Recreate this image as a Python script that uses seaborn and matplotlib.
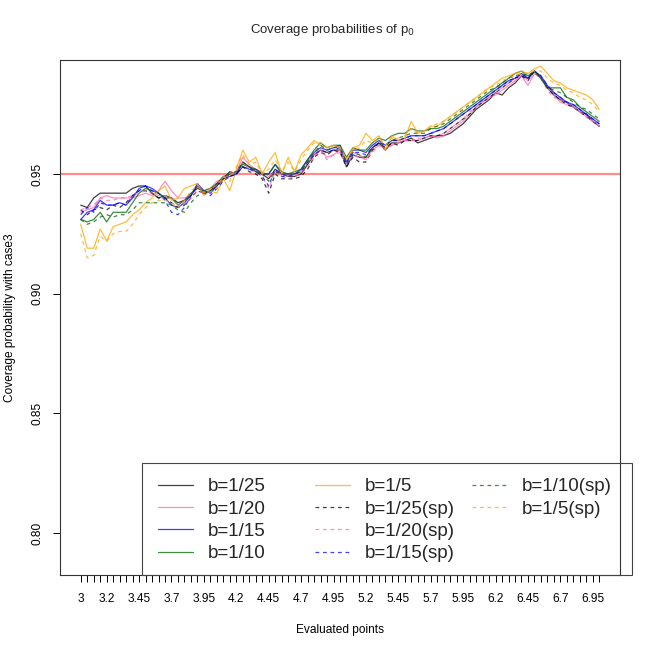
import numpy as np
import pandas as pd
import seaborn as sns
import matplotlib.pyplot as plt
from matplotlib.lines import Line2D
from matplotlib.patches import Rectangle

# evaluated points 3.00, 3.05, ..., 7.00
eval_points = np.round(np.linspace(3, 7, 81), 2)
labelled_points = [3, 3.2, 3.45, 3.7, 3.95, 4.2, 4.45, 4.7, 4.95,
                   5.2, 5.45, 5.7, 5.95, 6.2, 6.45, 6.7, 6.95]
y_ticks = [0.80, 0.85, 0.90, 0.95]

b25 = [0.937, 0.936, 0.940, 0.942, 0.942, 0.942, 0.942, 0.942, 0.944, 0.945, 0.945,
       0.942, 0.940, 0.941, 0.940, 0.938, 0.939, 0.941, 0.945, 0.942, 0.943,
       0.946, 0.948, 0.951, 0.950, 0.955, 0.953, 0.951, 0.950, 0.948, 0.952,
       0.950, 0.949, 0.949, 0.950, 0.954, 0.958, 0.960, 0.959, 0.960, 0.960,
       0.953, 0.958, 0.957, 0.957, 0.961, 0.963, 0.960, 0.963, 0.963, 0.964,
       0.965, 0.963, 0.964, 0.965, 0.966, 0.966, 0.967, 0.969, 0.971, 0.974,
       0.977, 0.979, 0.981, 0.984, 0.983, 0.986, 0.988, 0.991, 0.990, 0.993,
       0.990, 0.986, 0.983, 0.981, 0.980, 0.978, 0.976, 0.975, 0.972, 0.970]
b20 = [0.934, 0.935, 0.936, 0.940, 0.941, 0.940, 0.940, 0.940, 0.940, 0.941, 0.942,
       0.941, 0.943, 0.947, 0.943, 0.940, 0.940, 0.941, 0.944, 0.943, 0.944,
       0.947, 0.948, 0.950, 0.951, 0.957, 0.954, 0.952, 0.951, 0.949, 0.951,
       0.950, 0.949, 0.950, 0.951, 0.955, 0.958, 0.960, 0.957, 0.958, 0.960,
       0.955, 0.959, 0.958, 0.956, 0.960, 0.962, 0.961, 0.962, 0.963, 0.964,
       0.964, 0.964, 0.965, 0.966, 0.965, 0.966, 0.968, 0.970, 0.972, 0.975,
       0.978, 0.980, 0.982, 0.983, 0.985, 0.987, 0.989, 0.991, 0.987, 0.992,
       0.990, 0.986, 0.983, 0.980, 0.979, 0.978, 0.976, 0.974, 0.972, 0.970]
b15 = [0.931, 0.934, 0.935, 0.939, 0.937, 0.937, 0.938, 0.937, 0.940, 0.944, 0.945,
       0.944, 0.942, 0.940, 0.937, 0.936, 0.938, 0.941, 0.946, 0.943, 0.942,
       0.945, 0.948, 0.949, 0.950, 0.953, 0.952, 0.952, 0.950, 0.950, 0.954,
       0.950, 0.950, 0.950, 0.952, 0.956, 0.959, 0.961, 0.960, 0.961, 0.962,
       0.955, 0.960, 0.960, 0.959, 0.962, 0.964, 0.962, 0.964, 0.964, 0.965,
       0.966, 0.966, 0.966, 0.967, 0.968, 0.969, 0.971, 0.973, 0.975, 0.977,
       0.979, 0.981, 0.983, 0.985, 0.987, 0.989, 0.990, 0.992, 0.990, 0.993,
       0.991, 0.987, 0.984, 0.982, 0.980, 0.979, 0.977, 0.975, 0.973, 0.971]
b10 = [0.931, 0.930, 0.931, 0.934, 0.930, 0.934, 0.934, 0.934, 0.938, 0.942, 0.944,
       0.943, 0.942, 0.940, 0.940, 0.937, 0.939, 0.942, 0.944, 0.943, 0.944,
       0.946, 0.949, 0.950, 0.951, 0.954, 0.953, 0.952, 0.950, 0.950, 0.954,
       0.951, 0.950, 0.951, 0.952, 0.956, 0.960, 0.963, 0.961, 0.962, 0.962,
       0.957, 0.961, 0.960, 0.960, 0.963, 0.965, 0.964, 0.966, 0.967, 0.967,
       0.969, 0.968, 0.968, 0.969, 0.969, 0.970, 0.972, 0.974, 0.976, 0.978,
       0.980, 0.982, 0.984, 0.986, 0.988, 0.990, 0.992, 0.993, 0.991, 0.993,
       0.990, 0.986, 0.986, 0.986, 0.982, 0.981, 0.978, 0.976, 0.974, 0.972]
b5 = [0.929, 0.919, 0.919, 0.927, 0.922, 0.928, 0.929, 0.930, 0.933, 0.935, 0.938,
      0.940, 0.943, 0.945, 0.939, 0.940, 0.944, 0.945, 0.946, 0.941, 0.943,
      0.942, 0.948, 0.943, 0.952, 0.960, 0.955, 0.957, 0.950, 0.955, 0.959,
      0.950, 0.957, 0.951, 0.958, 0.961, 0.964, 0.962, 0.961, 0.962, 0.961,
      0.956, 0.961, 0.962, 0.967, 0.964, 0.966, 0.960, 0.966, 0.964, 0.965,
      0.972, 0.967, 0.968, 0.970, 0.970, 0.972, 0.974, 0.976, 0.978, 0.980,
      0.982, 0.984, 0.986, 0.988, 0.990, 0.991, 0.992, 0.993, 0.992, 0.994,
      0.995, 0.992, 0.989, 0.988, 0.986, 0.985, 0.984, 0.983, 0.981, 0.977]
b25_sp = [0.935, 0.933, 0.935, 0.936, 0.935, 0.937, 0.936, 0.938, 0.941, 0.943, 0.943,
          0.942, 0.940, 0.940, 0.938, 0.936, 0.937, 0.940, 0.943, 0.942, 0.943,
          0.945, 0.948, 0.949, 0.950, 0.953, 0.951, 0.950, 0.948, 0.942, 0.950,
          0.948, 0.948, 0.948, 0.949, 0.952, 0.957, 0.959, 0.958, 0.960, 0.959,
          0.953, 0.957, 0.955, 0.955, 0.960, 0.963, 0.961, 0.963, 0.962, 0.964,
          0.964, 0.964, 0.965, 0.966, 0.966, 0.967, 0.969, 0.971, 0.973, 0.975,
          0.978, 0.980, 0.982, 0.984, 0.986, 0.988, 0.990, 0.991, 0.989, 0.993,
          0.990, 0.986, 0.983, 0.981, 0.979, 0.978, 0.976, 0.974, 0.972, 0.970]
b20_sp = [0.935, 0.936, 0.937, 0.940, 0.939, 0.939, 0.940, 0.940, 0.941, 0.942, 0.943,
          0.942, 0.941, 0.941, 0.940, 0.937, 0.938, 0.940, 0.943, 0.942, 0.943,
          0.946, 0.948, 0.950, 0.951, 0.955, 0.952, 0.951, 0.949, 0.944, 0.951,
          0.949, 0.948, 0.949, 0.950, 0.953, 0.957, 0.960, 0.956, 0.958, 0.959,
          0.954, 0.958, 0.957, 0.956, 0.959, 0.962, 0.960, 0.962, 0.963, 0.964,
          0.964, 0.965, 0.965, 0.966, 0.966, 0.967, 0.969, 0.971, 0.973, 0.976,
          0.978, 0.980, 0.982, 0.984, 0.986, 0.988, 0.990, 0.991, 0.989, 0.992,
          0.990, 0.985, 0.982, 0.981, 0.980, 0.978, 0.976, 0.974, 0.972, 0.970]
b15_sp = [0.933, 0.936, 0.934, 0.938, 0.937, 0.937, 0.938, 0.937, 0.941, 0.943, 0.945,
          0.943, 0.942, 0.939, 0.934, 0.933, 0.936, 0.941, 0.945, 0.942, 0.941,
          0.944, 0.947, 0.949, 0.950, 0.953, 0.952, 0.951, 0.949, 0.945, 0.952,
          0.949, 0.949, 0.950, 0.951, 0.955, 0.958, 0.960, 0.959, 0.960, 0.961,
          0.954, 0.959, 0.959, 0.958, 0.961, 0.963, 0.962, 0.964, 0.964, 0.965,
          0.966, 0.966, 0.966, 0.967, 0.968, 0.969, 0.971, 0.973, 0.975, 0.977,
          0.979, 0.981, 0.983, 0.985, 0.987, 0.989, 0.990, 0.992, 0.990, 0.993,
          0.991, 0.987, 0.984, 0.982, 0.980, 0.979, 0.977, 0.975, 0.973, 0.971]
b10_sp = [0.931, 0.929, 0.930, 0.932, 0.933, 0.932, 0.933, 0.933, 0.935, 0.938, 0.938,
          0.938, 0.938, 0.938, 0.937, 0.935, 0.934, 0.938, 0.941, 0.942, 0.943,
          0.945, 0.948, 0.950, 0.951, 0.955, 0.953, 0.951, 0.950, 0.947, 0.951,
          0.950, 0.949, 0.950, 0.951, 0.955, 0.959, 0.962, 0.960, 0.961, 0.961,
          0.955, 0.959, 0.958, 0.957, 0.961, 0.963, 0.962, 0.964, 0.965, 0.966,
          0.967, 0.967, 0.967, 0.969, 0.970, 0.971, 0.973, 0.975, 0.977, 0.979,
          0.981, 0.983, 0.985, 0.986, 0.988, 0.990, 0.991, 0.992, 0.991, 0.993,
          0.990, 0.986, 0.985, 0.984, 0.982, 0.980, 0.978, 0.977, 0.975, 0.973]
b5_sp = [0.925, 0.915, 0.916, 0.924, 0.922, 0.925, 0.926, 0.926, 0.929, 0.933, 0.936,
         0.938, 0.939, 0.939, 0.938, 0.936, 0.939, 0.943, 0.945, 0.942, 0.944,
         0.944, 0.949, 0.947, 0.953, 0.958, 0.954, 0.955, 0.950, 0.952, 0.956,
         0.951, 0.955, 0.951, 0.956, 0.960, 0.963, 0.963, 0.961, 0.962, 0.961,
         0.956, 0.960, 0.961, 0.964, 0.963, 0.965, 0.962, 0.965, 0.965, 0.966,
         0.969, 0.967, 0.968, 0.970, 0.971, 0.972, 0.974, 0.976, 0.978, 0.980,
         0.982, 0.984, 0.986, 0.987, 0.989, 0.990, 0.991, 0.992, 0.992, 0.993,
         0.993, 0.990, 0.988, 0.987, 0.985, 0.984, 0.982, 0.981, 0.979, 0.976]

series_names = ["b=1/25", "b=1/20", "b=1/15", "b=1/10", "b=1/5",
                "b=1/25(sp)", "b=1/20(sp)", "b=1/15(sp)", "b=1/10(sp)", "b=1/5(sp)"]
series_values = [b25, b20, b15, b10, b5, b25_sp, b20_sp, b15_sp, b10_sp, b5_sp]

base_colors = ["black", "hotpink", "blue", "darkgreen", "orange"]
palette = dict(zip(series_names, base_colors + base_colors))
dash_map = {n: ("" if i < 5 else (3, 3)) for i, n in enumerate(series_names)}

df = pd.concat([pd.DataFrame({"point": eval_points, "coverage": v, "series": n})
                for n, v in zip(series_names, series_values)], ignore_index=True)

sns.set_theme(style="ticks")
plt.rcParams["font.family"] = ["Liberation Sans", "DejaVu Sans"]

fig = plt.figure(figsize=(6.5, 6.5), dpi=100)
ax = fig.add_axes([60 / 650, 75 / 650, 560 / 650, 515 / 650])

sns.lineplot(data=df, x="point", y="coverage", hue="series", style="series",
             hue_order=series_names, style_order=series_names,
             palette=palette, dashes=dash_map, linewidth=0.9, alpha=0.75,
             errorbar=None, legend=False, ax=ax)
ax.axhline(0.95, color="red", alpha=0.45, linewidth=1.6, zorder=0)

ax.set_xlim(3 - 0.16, 7 + 0.16)
ax.set_ylim(0.78245, 0.99764)
ax.set_xticks(eval_points)
ax.set_xticklabels([f"{p:g}" if any(abs(p - q) < 1e-6 for q in labelled_points) else ""
                    for p in eval_points])
ax.set_yticks(y_ticks)
ax.set_yticklabels([f"{t:.2f}" for t in y_ticks], rotation=90, va="center")
ax.tick_params(axis="both", direction="out", length=5, width=0.7, color="black",
               labelsize=8.6, labelcolor="black")
ax.tick_params(axis="x", pad=8)
ax.tick_params(axis="y", pad=7)
for s in ax.spines.values():
    s.set_visible(True)
    s.set_color("#333333")
    s.set_linewidth(0.8)

ax.set_xlabel("Evaluated points", fontsize=8.6, labelpad=14, color="black")
ax.set_ylabel("Coverage probability with case3", fontsize=8.6, labelpad=11, color="black")
fig.text(0.512, 1 - 30 / 650, "Coverage probabilities of p$_0$", fontsize=9.5,
         ha="center", va="center")

# legend: frame + three columns
fig.patches.append(Rectangle((142 / 650, 75 / 650), 490 / 650, 112 / 650,
                             transform=fig.transFigure, fill=False,
                             edgecolor="#444444", linewidth=0.8))
handles = [Line2D([], [], color=palette[n], alpha=0.75, linewidth=0.9,
                  linestyle="-" if dash_map[n] == "" else (0, (3, 3)))
           for n in series_names]
col_groups = [(0, 4), (4, 8), (8, 10)]
col_left = [158, 315, 472]
for (a, b), xl in zip(col_groups, col_left):
    leg = fig.legend(handles[a:b], series_names[a:b], loc="upper left",
                     bbox_to_anchor=(xl / 650, 1 - 478 / 650),
                     bbox_transform=fig.transFigure, frameon=False,
                     fontsize=13.5, handlelength=1.87, handletextpad=0.8,
                     labelspacing=0.28, borderpad=0, borderaxespad=0)

fig.savefig("out.png", dpi=100)
